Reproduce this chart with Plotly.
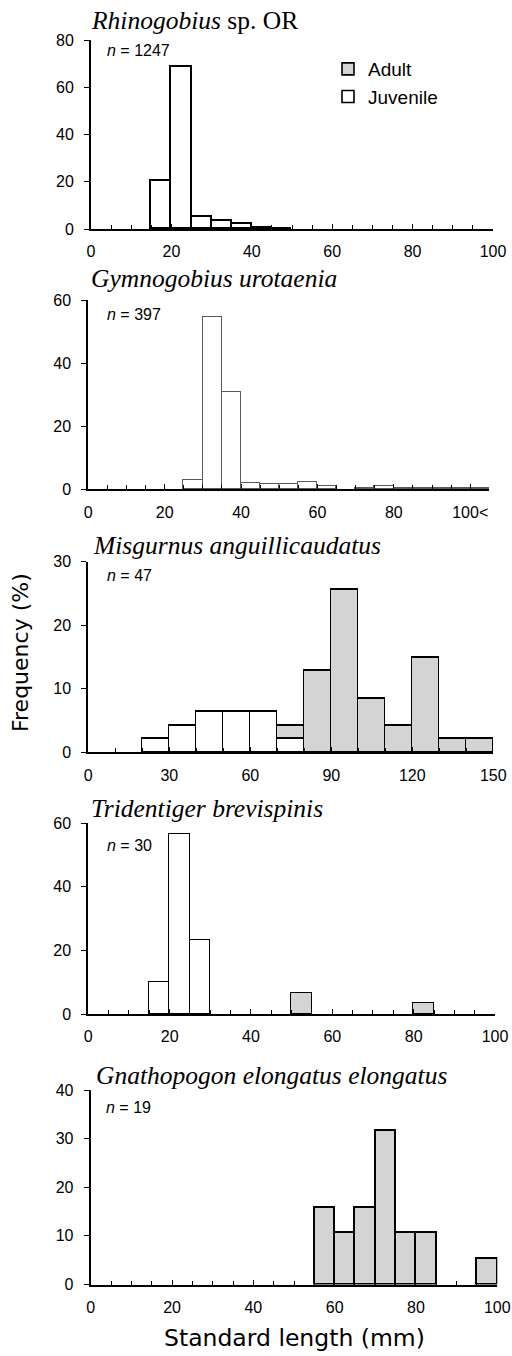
import plotly.graph_objects as go

W, H = 512, 1356

# ---------------- data ----------------
titles = ["<i>Rhinogobius</i> sp. OR", "<i>Gymnogobius urotaenia</i>",
          "<i>Misgurnus anguillicaudatus</i>", "<i>Tridentiger brevispinis</i>",
          "<i>Gnathopogon elongatus elongatus</i>"]
n_labels = ["1247", "397", "47", "30", "19"]

# Panel 1 (5 mm bins, centres)
p1_juv_x = [17.5, 22.5, 27.5, 32.5, 37.5, 42.5, 47.5]
p1_juv_y = [20.3, 68.4, 5.1, 3.6, 2.2, 0.3, 0.1]
p1_ad_x = []
p1_ad_y = []

# Panel 2 (5 mm bins, last bin = 100<)
p2_juv_x = [27.5, 32.5, 37.5, 42.5, 47.5, 52.5, 57.5, 62.5, 72.5, 77.5, 82.5, 87.5, 92.5, 97.5, 102.5]
p2_juv_y = [2.8, 54.7, 30.9, 2.0, 1.8, 1.8, 2.3, 1.0, 0.3, 1.0, 0.5, 0.3, 0.3, 0.3, 0.5]
p2_ad_x = []
p2_ad_y = []

# Panel 3 (10 mm bins)
p3_juv_x = [25, 35, 45, 55, 65, 75]
p3_juv_y = [2.13, 4.26, 6.38, 6.38, 6.38, 2.13]
p3_ad_x = [75, 85, 95, 105, 115, 125, 135, 145]
p3_ad_y = [2.13, 12.77, 25.53, 8.51, 4.26, 14.89, 2.13, 2.13]

# Panel 4 (5 mm bins)
p4_juv_x = [17.5, 22.5, 27.5]
p4_juv_y = [10.0, 56.67, 23.33]
p4_ad_x = [52.5, 82.5]
p4_ad_y = [6.67, 3.33]

# Panel 5 (5 mm bins)
p5_juv_x = []
p5_juv_y = []
p5_ad_x = [57.5, 62.5, 67.5, 72.5, 77.5, 82.5, 97.5]
p5_ad_y = [15.79, 10.53, 15.79, 31.58, 10.53, 10.53, 5.26]

bin_widths = [5, 5, 10, 5, 5]
x_ranges = [[0, 100], [0, 105], [0, 150], [0, 100], [0, 100]]
x_label_step = [20, 20, 30, 20, 20]
x_minor_step = [5, 5, 10, 5, 5]
y_ranges = [[0, 80], [0, 60], [0, 30], [0, 60], [0, 40]]
y_steps = [20, 20, 10, 20, 10]
p2_tickvals = [0, 20, 40, 60, 80, 100]
p2_ticktext = ["0", "20", "40", "60", "80", "100<"]

juv_data = [(p1_juv_x, p1_juv_y), (p2_juv_x, p2_juv_y), (p3_juv_x, p3_juv_y),
            (p4_juv_x, p4_juv_y), (p5_juv_x, p5_juv_y)]
ad_data = [(p1_ad_x, p1_ad_y), (p2_ad_x, p2_ad_y), (p3_ad_x, p3_ad_y),
           (p4_ad_x, p4_ad_y), (p5_ad_x, p5_ad_y)]

# ---------------- layout geometry (pixels) ----------------
x_px = [(91, 493), (88.3, 489.3), (88.3, 493.3), (88.3, 495), (90.7, 497.3)]
y_px = [(40, 229), (300, 489.3), (561.7, 752.3), (823.3, 1014), (1090, 1284.5)]
title_px = [(89, 21), (89, 278), (91, 545), (89, 808), (94, 1075)]
n_px = [(105, 50), (105, 315), (105, 575), (105, 845), (104, 1107)]

SANS = "Liberation Sans, Arial, sans-serif"
WIDE = "DejaVu Sans, sans-serif"
SERIF = "Liberation Serif, Times New Roman, serif"
ADULT_FILL = "#d4d4d4"

fig = go.Figure()
layout = dict(width=W, height=H,
              margin=dict(l=0, r=0, t=0, b=0, pad=0, autoexpand=False),
              plot_bgcolor="white", paper_bgcolor="white",
              barmode="stack", bargap=0, showlegend=True,
              font=dict(family=SANS, size=16, color="black"))
annotations = []

for i in range(5):
    k = "" if i == 0 else str(i + 1)
    xa, ya = "x" + k, "y" + k
    jx, jy = juv_data[i]
    ax_, ay_ = ad_data[i]
    jline = "#5a5a5a" if i == 1 else "black"
    jlw = 1.2 if i == 1 else 1.6
    fig.add_trace(go.Bar(x=jx, y=jy, width=bin_widths[i], xaxis=xa, yaxis=ya,
                         name="Juvenile", legendrank=2,
                         marker=dict(color="white", line=dict(color=jline, width=jlw)),
                         showlegend=(i == 0)))
    fig.add_trace(go.Bar(x=ax_, y=ay_, width=bin_widths[i], xaxis=xa, yaxis=ya,
                         name="Adult", legendrank=1,
                         marker=dict(color=ADULT_FILL, line=dict(color="black", width=1.6)),
                         showlegend=(i == 2)))
    xd = [x_px[i][0] / W, x_px[i][1] / W]
    yd = [1 - y_px[i][1] / H, 1 - y_px[i][0] / H]
    xaxis = dict(domain=xd, anchor=ya, range=x_ranges[i], showline=True,
                 linewidth=2, linecolor="black", showgrid=False, zeroline=False,
                 ticks="inside", ticklen=5, tickwidth=1.2, tickcolor="black",
                 dtick=x_label_step[i], tick0=0,
                 minor=dict(ticks="inside", ticklen=4, tickwidth=1.2, tickcolor="black",
                            dtick=x_minor_step[i], tick0=0, showgrid=False),
                 tickfont=dict(family=SANS, size=16), ticklabelstandoff=7,
                 automargin=False, fixedrange=True)
    if i == 1:
        xaxis.update(tickmode="array", tickvals=p2_tickvals, ticktext=p2_ticktext)
        xaxis.pop("dtick"); xaxis.pop("tick0")
    yaxis = dict(domain=yd, anchor=xa, range=y_ranges[i], showline=True,
                 linewidth=2, linecolor="black", showgrid=False, zeroline=False,
                 ticks="outside", ticklen=5, tickwidth=1.2, tickcolor="black",
                 dtick=y_steps[i], tick0=0, tickfont=dict(family=SANS, size=16),
                 ticklabelstandoff=7, automargin=False, fixedrange=True)
    layout["xaxis" + k] = xaxis
    layout["yaxis" + k] = yaxis
    annotations.append(dict(text=titles[i], xref="paper", yref="paper",
                            x=title_px[i][0] / W, y=1 - title_px[i][1] / H,
                            xanchor="left", yanchor="middle", showarrow=False,
                            font=dict(family=SERIF, size=25.5, color="black")))
    annotations.append(dict(text="<i>n</i> = " + n_labels[i], xref="paper", yref="paper",
                            x=n_px[i][0] / W, y=1 - n_px[i][1] / H,
                            xanchor="left", yanchor="middle", showarrow=False,
                            font=dict(family=SANS, size=16, color="black")))

annotations.append(dict(text="Frequency (%)", xref="paper", yref="paper",
                        x=20 / W, y=1 - 653 / H, textangle=-90,
                        xanchor="center", yanchor="middle", showarrow=False,
                        font=dict(family=WIDE, size=22, color="black")))
annotations.append(dict(text="Standard length (mm)", xref="paper", yref="paper",
                        x=294 / W, y=1 - 1338 / H,
                        xanchor="center", yanchor="middle", showarrow=False,
                        font=dict(family=WIDE, size=23.5, color="black")))

layout["annotations"] = annotations
layout["legend"] = dict(x=328 / W, y=1 - 50 / H, xanchor="left", yanchor="top",
                        bgcolor="rgba(0,0,0,0)", font=dict(family=SANS, size=19),
                        itemwidth=30, tracegroupgap=0, traceorder="normal")
fig.update_layout(**layout)
fig.write_html("out.html", config={"displayModeBar": False},
               post_script="document.body.style.margin='0';document.body.style.overflow='hidden';")
